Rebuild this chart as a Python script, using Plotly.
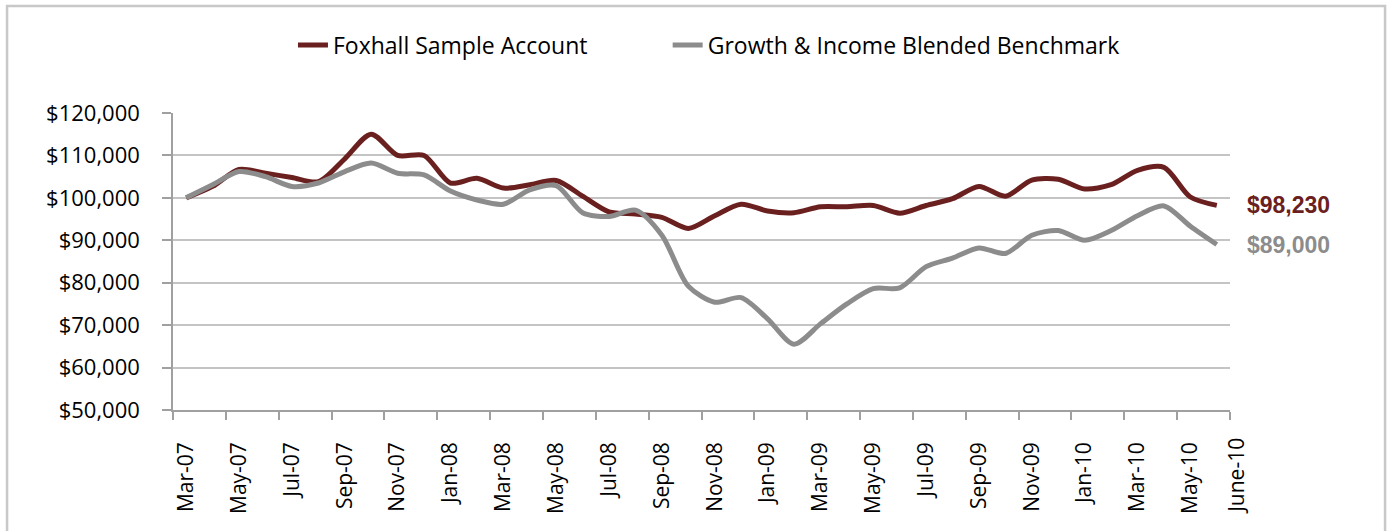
import plotly.graph_objects as go

months = ["Mar-07","Apr-07","May-07","Jun-07","Jul-07","Aug-07","Sep-07","Oct-07","Nov-07","Dec-07",
          "Jan-08","Feb-08","Mar-08","Apr-08","May-08","Jun-08","Jul-08","Aug-08","Sep-08","Oct-08",
          "Nov-08","Dec-08","Jan-09","Feb-09","Mar-09","Apr-09","May-09","Jun-09","Jul-09","Aug-09",
          "Sep-09","Oct-09","Nov-09","Dec-09","Jan-10","Feb-10","Mar-10","Apr-10","May-10","June-10"]

foxhall = [100000, 102700, 106700, 105800, 104800, 103800, 109200, 115000, 110000, 110000,
           103500, 104600, 102300, 103100, 104100, 100400, 96700, 96200, 95400, 92800,
           95800, 98500, 96900, 96500, 97900, 97900, 98200, 96400, 98200, 99800,
           102700, 100400, 104200, 104400, 102100, 103100, 106500, 107200, 100200, 98230]

benchmark = [100000, 103100, 106200, 105000, 102700, 103500, 106200, 108200, 105800, 105400,
             101600, 99500, 98500, 101900, 102900, 96500, 95600, 97100, 91200, 79200,
             75400, 76500, 71500, 65500, 70300, 75000, 78600, 78800, 83800, 85800,
             88200, 86900, 91200, 92300, 90000, 92300, 95800, 98100, 93300, 89000]

series_names = ["Foxhall Sample Account", "Growth & Income Blended Benchmark"]
end_labels = ["$98,230", "$89,000"]
y_ticks = [50000, 60000, 70000, 80000, 90000, 100000, 110000, 120000]

MAROON = "#6B2020"
GREY = "#8C8C8C"

x_idx = list(range(len(months)))

fig = go.Figure()
for name, vals, col, lg in [(series_names[0], foxhall, MAROON, "legend"),
                            (series_names[1], benchmark, GREY, "legend2")]:
    fig.add_trace(go.Scatter(
        x=x_idx, y=vals, name=name, mode="lines", legend=lg,
        line=dict(color=col, width=5, shape="spline", smoothing=0.8),
        hoverinfo="skip",
    ))

# x labels every second month (the last one drawn separately)
lab_vals = x_idx[0:len(months) - 1:2]
lab_text = [months[i] for i in lab_vals]
boundaries = [i - 0.5 for i in range(0, len(months) + 1, 2)]

legend_common = dict(orientation="h", xanchor="left", y=1.229, yanchor="middle",
                     font=dict(family="Open Sans", size=23, color="#000000"),
                     itemwidth=30, bgcolor="rgba(0,0,0,0)")

fig.update_layout(
    width=1388, height=531,
    margin=dict(l=173, r=158, t=113, b=121),
    paper_bgcolor="white", plot_bgcolor="white",
    font=dict(family="Open Sans", color="#000000"),
    showlegend=True,
    legend=dict(x=0.1135, **legend_common),
    legend2=dict(x=0.468, **legend_common),
    xaxis=dict(
        range=[-0.5, len(months) - 0.5],
        tickmode="array", tickvals=lab_vals, ticktext=lab_text,
        tickangle=-90, ticks="", ticklabelstandoff=22,
        tickfont=dict(family="Open Sans", size=21, color="#000000"),
        showgrid=False, zeroline=False,
        showline=True, linecolor="#A0A0A0", linewidth=1.5,
        minor=dict(tickmode="array", tickvals=boundaries, ticks="outside",
                   ticklen=8, tickcolor="#A0A0A0", tickwidth=1.5, showgrid=False),
    ),
    yaxis=dict(
        range=[50000, 120000],
        tickmode="array", tickvals=y_ticks,
        ticktext=["${:,}".format(v) for v in y_ticks],
        ticks="outside", ticklen=9, tickcolor="#A0A0A0", tickwidth=1.5,
        ticklabelstandoff=18,
        tickfont=dict(family="Open Sans", size=22, color="#000000"),
        showgrid=True, gridcolor="#C4C4C4", gridwidth=1.5,
        zeroline=False, showline=True, linecolor="#A0A0A0", linewidth=1.5,
    ),
)

# last category label
fig.add_annotation(
    x=x_idx[-1], xref="x", y=0, yref="paper", xshift=19,
    text=months[-1], textangle=-90, showarrow=False,
    xanchor="center", yanchor="top", yshift=-26,
    font=dict(family="Open Sans", size=21, color="#000000"),
)

# end value labels
for vals, lab, col in [(foxhall, end_labels[0], MAROON), (benchmark, end_labels[1], GREY)]:
    fig.add_annotation(
        x=x_idx[-1], y=vals[-1], xref="x", yref="y",
        text="<b>" + lab + "</b>", showarrow=False,
        xanchor="left", yanchor="middle", xshift=28,
        font=dict(family="Liberation Sans", size=23, color=col),
    )

# outer chart border
fig.add_shape(type="rect", xref="paper", yref="paper",
              x0=-0.157, x1=1.1467, y0=-0.45, y1=1.360,
              line=dict(color="#C8C8C8", width=2.5), fillcolor="rgba(0,0,0,0)", layer="below")

fig.write_html("out.html", config={"displayModeBar": False},
               post_script="document.body.style.margin='0px';")
